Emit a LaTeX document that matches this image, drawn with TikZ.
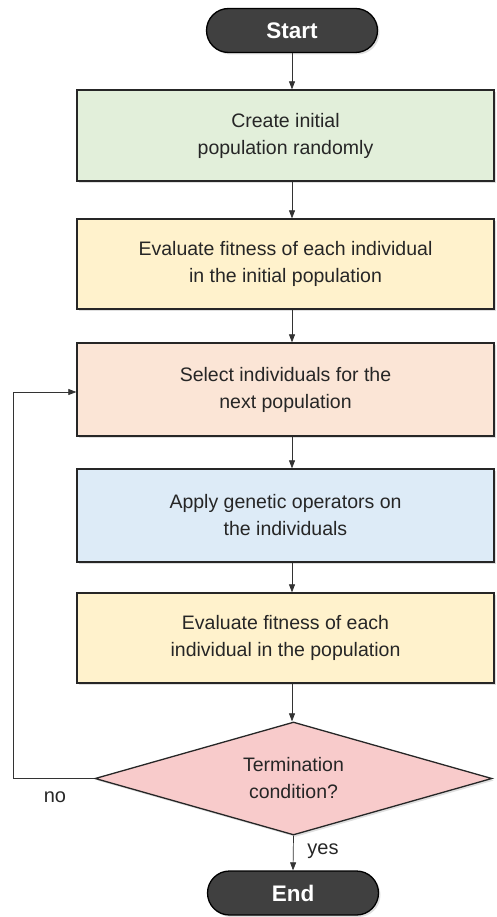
\documentclass[tikz,border=0pt]{standalone}
\usepackage{fontspec}
\setmainfont{Liberation Sans}
\usetikzlibrary{shapes.geometric,shadows,arrows.meta,calc}
\definecolor{cgreen}{HTML}{E2EFDA}
\definecolor{cyellow}{HTML}{FFF2CC}
\definecolor{csalmon}{HTML}{FBE5D6}
\definecolor{cblue}{HTML}{DDEBF7}
\definecolor{cpink}{HTML}{F8CBCB}
\definecolor{cterm}{HTML}{404040}
\definecolor{ctext}{HTML}{262626}
\begin{document}
\begin{tikzpicture}[x=1pt,y=-1pt,
  shade/.style={drop shadow={opacity=0.25,shadow xshift=2pt,shadow yshift=-2pt}},
  procbox/.style={draw=black!85,line width=1.3pt,minimum width=417pt,minimum height=91pt,
    align=center,font=\fontsize{19.5}{27}\selectfont,text=ctext,inner sep=0pt,shade},
  term/.style={draw=black,line width=1.3pt,fill=cterm,rounded corners=22pt,minimum width=171pt,
    minimum height=44pt,text=white,font=\fontsize{22.5}{24}\selectfont\bfseries,inner sep=0pt,shade},
  decision/.style={diamond,aspect=3.5,draw=black!85,line width=1.3pt,fill=cpink,minimum width=397pt,
    minimum height=113pt,inner sep=0pt,align=center,font=\fontsize{19.5}{27}\selectfont,text=ctext,shade},
  arr/.style={-{Triangle[length=8pt,width=6pt]},line width=0.7pt,draw=black!80},
  lbl/.style={font=\fontsize{20}{24}\selectfont,text=ctext}
]
\useasboundingbox (0,0) rectangle (496,917);
\node[term] (start) at (292,30.5) {Start};
\node[procbox,fill=cgreen] (b1) at (285.5,135.5) {Create initial\\population randomly};
\node[procbox,fill=cyellow,minimum height=90pt] (b2) at (285.5,264) {Evaluate fitness of each individual\\in the initial population};
\node[procbox,fill=csalmon,minimum height=93pt] (b3) at (285.5,389.5) {Select individuals for the\\next population};
\node[procbox,fill=cblue,minimum height=93pt] (b4) at (285.5,515.5) {Apply genetic operators on\\the individuals};
\node[procbox,fill=cyellow,minimum height=90pt] (b5) at (285.5,638) {Evaluate fitness of each\\individual in the population};
\node[decision] (dec) at (293.5,778.5) {Termination\\condition?};
\node[term] (end) at (293,893) {End};
\coordinate (lc) at (13,778.5);
\node[lbl] (no) at (55,797) {no};
\node[lbl] (yes) at (323,851) {yes};
\draw[arr] (start.south) -- (start.south |- b1.north);
\draw[arr] (b1.south -| start.south) -- (start.south |- b2.north);
\draw[arr] (b2.south -| start.south) -- (start.south |- b3.north);
\draw[arr] (b3.south -| start.south) -- (start.south |- b4.north);
\draw[arr] (b4.south -| start.south) -- (start.south |- b5.north);
\draw[arr] (b5.south -| start.south) -- (start.south |- dec.north);
\draw[arr] (dec.south) -- (end.north);
\draw[arr] (dec.west) -- (lc) |- ($(b3.west)+(0,2.5)$);
\end{tikzpicture}
\end{document}
